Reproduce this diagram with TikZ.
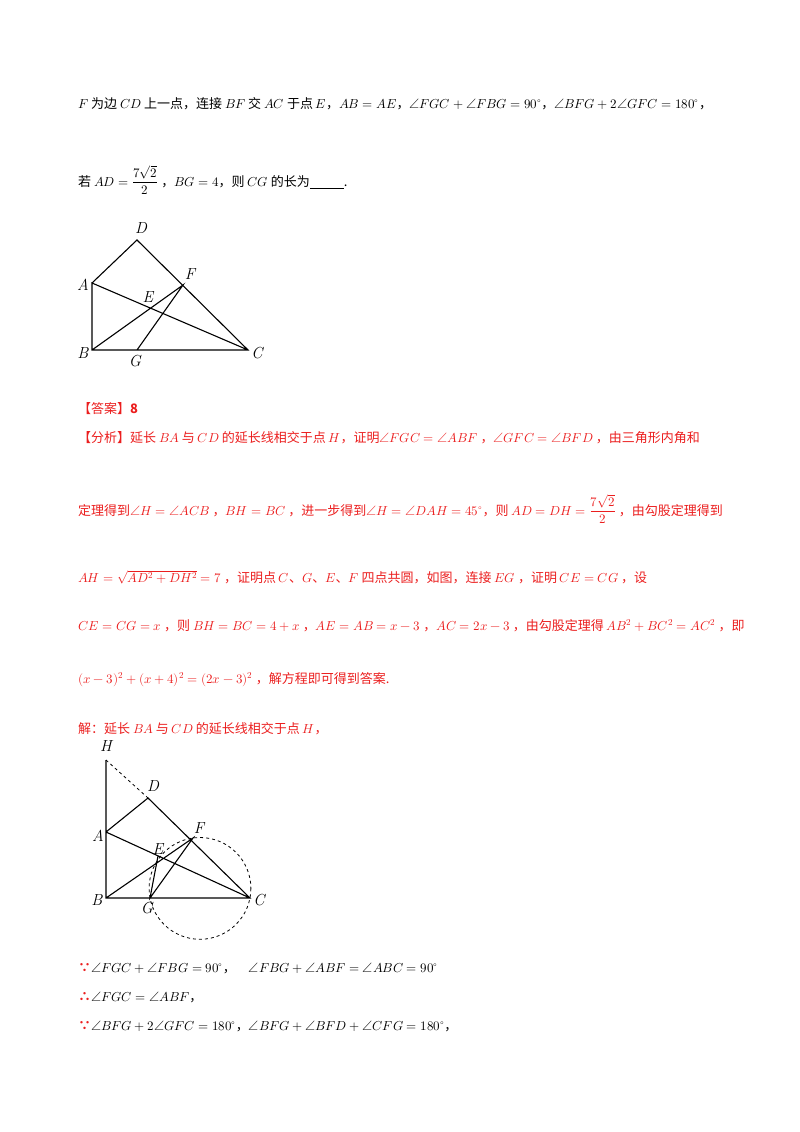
\documentclass[tikz,border=0pt]{standalone}
\usepackage{amsmath}
\usepackage{fontspec}
\usepackage{unicode-math}
\setmathfont{Latin Modern Math}
\newfontfamily\cjk{Noto Sans CJK SC}
\definecolor{ansred}{RGB}{235,30,30}
\newcommand{\rsym}[1]{{\color{ansred}\bfseries #1}}
\begin{document}
\begin{tikzpicture}[x=1pt,y=-1pt,
 txt/.style={anchor=base west,inner sep=0pt,font=\fontsize{13}{16}\selectfont\cjk},
 rtxt/.style={txt,text=ansred},
 fig/.style={line width=1.1pt},
 lab/.style={font=\fontsize{16}{16}\selectfont\itshape,inner sep=0pt}]
\useasboundingbox (0,0) rectangle (800,1132);
\node[txt] (l1) at (78,108) {$F$ 为边 $CD$ 上一点，连接 $BF$ 交 $AC$ 于点 $E$，$AB=AE$，$\angle FGC+\angle FBG=90^\circ$，$\angle BFG+2\angle GFC=180^\circ$，};
\node[txt] (l2) at (78,186) {若 $AD=\dfrac{7\sqrt2}{2}$ ，$BG=4$，则 $CG$ 的长为\underline{\hspace{34pt}}.};
% figure 1
\coordinate (D) at (137,240); \coordinate (A) at (92,283); \coordinate (F) at (183,285);
\coordinate (B) at (92,350); \coordinate (G) at (137,350); \coordinate (C) at (248,350);
\draw[fig] (A)--(D)--(C)--(B)--(A)--(C) (B)--(F)--(G);
\node[lab] at (141,228) {D}; \node[lab] at (83,285) {A}; \node[lab] at (190,274) {F};
\node[lab] at (148,297) {E}; \node[lab] at (83,353) {B}; \node[lab] at (135,361) {G}; \node[lab] at (257,353) {C};
\node[rtxt] (ans) at (78,413) {【答案】\textbf{8}};
\node[rtxt] (a1) at (78,442) {【分析】延长 $BA$ 与 $CD$ 的延长线相交于点 $H$，证明$\angle FGC=\angle ABF$ ，$\angle GFC=\angle BFD$ ，由三角形内角和};
\node[rtxt] (a2) at (78,515) {定理得到$\angle H=\angle ACB$ ，$BH=BC$ ，进一步得到$\angle H=\angle DAH=45^\circ$，则 $AD=DH=\dfrac{7\sqrt2}{2}$ ，由勾股定理得到};
\node[rtxt] (a3) at (78,582) {$AH=\sqrt{AD^2+DH^2}=7$ ，证明点 $C$、$G$、$E$、$F$ 四点共圆，如图，连接 $EG$ ，证明 $CE=CG$ ，设};
\node[rtxt] (a4) at (78,630) {$CE=CG=x$ ，则 $BH=BC=4+x$ ，$AE=AB=x-3$ ，$AC=2x-3$ ，由勾股定理得 $AB^2+BC^2=AC^2$ ，即};
\node[rtxt] (a5) at (78,683) {$(x-3)^2+(x+4)^2=(2x-3)^2$ ，解方程即可得到答案.};
\node[rtxt] (a6) at (78,733) {解：延长 $BA$ 与 $CD$ 的延长线相交于点 $H$，};
% figure 2
\coordinate (H2) at (106,760); \coordinate (D2) at (148,798); \coordinate (A2) at (106,832);
\coordinate (F2) at (193,838); \coordinate (E2) at (158,856);
\coordinate (B2) at (106,898); \coordinate (G2) at (150,898); \coordinate (C2) at (250,898);
\draw[fig] (H2)--(A2)--(D2)--(C2)--(B2)--(A2)--(C2) (B2)--(F2)--(G2)--(E2);
\draw[fig,dashed,line width=0.8pt] (H2)--(D2);
\draw[dashed,line width=0.8pt] (200,888.4) circle (50.9);
\node[lab] at (106,746) {H}; \node[lab] at (153,786) {D}; \node[lab] at (98,836) {A};
\node[lab] at (199,828) {F}; \node[lab] at (158,849) {E}; \node[lab] at (97,900) {B};
\node[lab] at (147,908) {G}; \node[lab] at (259,900) {C};
\node[txt] (b1) at (78,972) {\rsym{∵}$\angle FGC+\angle FBG=90^\circ$，\quad $\angle FBG+\angle ABF=\angle ABC=90^\circ$};
\node[txt] (b2) at (78,1001) {\rsym{∴}$\angle FGC=\angle ABF$，};
\node[txt] (b3) at (78,1030) {\rsym{∵}$\angle BFG+2\angle GFC=180^\circ$，$\angle BFG+\angle BFD+\angle CFG=180^\circ$，};
\end{tikzpicture}
\end{document}
